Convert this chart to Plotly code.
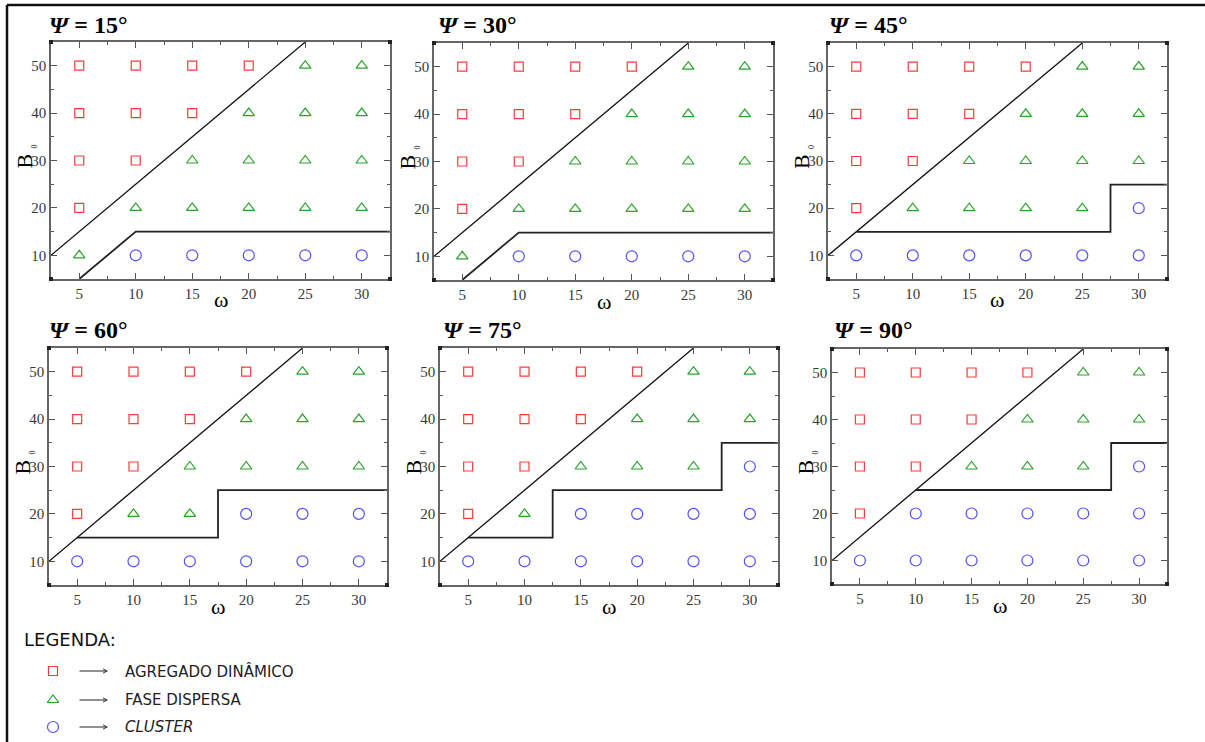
import plotly.graph_objects as go

W, H = 1205, 742

# grid of simulated parameters
omega = [5, 10, 15, 20, 25, 30]
b0 = [10, 20, 30, 40, 50]
psi = [15, 30, 45, 60, 75, 90]

# phase at each (B0, omega): rows go from B0 = 10 up to B0 = 50, columns follow omega
# A = agregado dinâmico, F = fase dispersa, C = cluster
phase_15 = ["FCCCCC", "AFFFFF", "AAFFFF", "AAAFFF", "AAAAFF"]
phase_30 = ["FCCCCC", "AFFFFF", "AAFFFF", "AAAFFF", "AAAAFF"]
phase_45 = ["CCCCCC", "AFFFFC", "AAFFFF", "AAAFFF", "AAAAFF"]
phase_60 = ["CCCCCC", "AFFCCC", "AAFFFF", "AAAFFF", "AAAAFF"]
phase_75 = ["CCCCCC", "AFCCCC", "AAFFFC", "AAAFFF", "AAAAFF"]
phase_90 = ["CCCCCC", "ACCCCC", "AAFFFC", "AAAFFF", "AAAAFF"]
phases = [phase_15, phase_30, phase_45, phase_60, phase_75, phase_90]

# boundary between agregado dinâmico and fase dispersa (same for every angle)
upper_x = [2.5, 25]
upper_y = [10, 55]

# boundary between fase dispersa and cluster
lower_15_x, lower_15_y = [5, 10, 32.5], [5, 15, 15]
lower_30_x, lower_30_y = [5, 10, 32.5], [5, 15, 15]
lower_45_x, lower_45_y = [5, 27.5, 27.5, 32.5], [15, 15, 25, 25]
lower_60_x, lower_60_y = [5, 17.5, 17.5, 32.5], [15, 15, 25, 25]
lower_75_x, lower_75_y = [5, 12.5, 12.5, 27.5, 27.5, 32.5], [15, 15, 25, 25, 35, 35]
lower_90_x, lower_90_y = [10, 27.5, 27.5, 32.5], [25, 25, 35, 35]
lower_x = [lower_15_x, lower_30_x, lower_45_x, lower_60_x, lower_75_x, lower_90_x]
lower_y = [lower_15_y, lower_30_y, lower_45_y, lower_60_y, lower_75_y, lower_90_y]

legend_labels = ["AGREGADO DINÂMICO", "FASE DISPERSA", "<i>CLUSTER</i>"]

# ---- styling ----
STYLE = {
    "A": dict(symbol="square-open", size=9, color="#ff3a3a"),
    "F": dict(symbol="triangle-up-open", size=10, color="#28a428"),
    "C": dict(symbol="circle-open", size=11, color="#5050ff"),
}
SERIF = "Liberation Serif"
SANS = "DejaVu Sans"

# panel boxes in pixels: left, top, right, bottom
boxes = [
    (51, 42, 390, 279), (434, 43, 773, 280), (828, 43, 1167, 279),
    (49, 348, 387, 585), (440, 348, 778, 585), (832, 349, 1167, 584),
]
title_pos = [(47, 25), (436, 25), (827, 25), (47, 330), (441, 330), (832, 330)]


def px(x):
    return x / W


def py(y):
    return 1 - y / H


fig = go.Figure()
annotations = []
shapes = []

for i, (grid, box) in enumerate(zip(phases, boxes)):
    n = i + 1
    suffix = "" if n == 1 else str(n)
    xa, ya = f"x{suffix}", f"y{suffix}"
    for code in "AFC":
        xs, ys = [], []
        for r, b in enumerate(b0):
            for c, w in enumerate(omega):
                if grid[r][c] == code:
                    xs.append(w)
                    ys.append(b)
        st = STYLE[code]
        fig.add_trace(go.Scatter(
            x=xs, y=ys, mode="markers", xaxis=xa, yaxis=ya, showlegend=False,
            marker=dict(symbol=st["symbol"], size=st["size"], color=st["color"],
                        line=dict(color=st["color"], width=1.2)),
            hoverinfo="skip"))
    fig.add_trace(go.Scatter(x=upper_x, y=upper_y, mode="lines", xaxis=xa, yaxis=ya,
                             showlegend=False, line=dict(color="#111", width=1.3)))
    fig.add_trace(go.Scatter(x=lower_x[i], y=lower_y[i], mode="lines", xaxis=xa, yaxis=ya,
                             showlegend=False, line=dict(color="#222", width=1.8)))

    l, t, r, b = box
    common = dict(showline=True, linecolor="#666", linewidth=1.5, mirror="allticks",
                  ticks="inside", ticklen=6, tickwidth=1, tickcolor="#555",
                  showgrid=False, zeroline=False,
                  tickfont=dict(family=SERIF, size=15, color="#383838"))
    fig.layout[f"xaxis{suffix}"] = dict(
        domain=[px(l), px(r)], anchor=ya, range=[2.5, 32.5], tick0=0, dtick=5,
        minor=dict(dtick=2.5, ticks="inside", ticklen=3, tickcolor="#555", showgrid=False),
        **common)
    fig.layout[f"yaxis{suffix}"] = dict(
        domain=[py(b), py(t)], anchor=xa, range=[5, 55], tick0=10, dtick=10,
        minor=dict(dtick=5, ticks="inside", ticklen=3, tickcolor="#555", showgrid=False),
        **common)

    # small corner blocks of the frame
    for fx in (0, 1):
        for fy in (0, 1):
            shapes.append(dict(type="rect", xref=f"{xa} domain", yref=f"{ya} domain",
                               xsizemode="pixel", ysizemode="pixel", xanchor=fx, yanchor=fy,
                               x0=-2, x1=2, y0=-2, y1=2, fillcolor="#222", line=dict(width=0)))

    tx, ty = title_pos[i]
    mid = (t + b) / 2
    annotations.append(dict(xref="paper", yref="paper", x=px(tx), y=py(ty),
                            xanchor="left", yanchor="middle", showarrow=False,
                            text=f"<b><i>Ψ</i> = {psi[i]}°</b>",
                            font=dict(family=SERIF, size=24, color="#000")))
    annotations.append(dict(xref="paper", yref="paper", x=px((l + r) / 2), y=py(b + 21),
                            xanchor="center", yanchor="middle", showarrow=False,
                            text="ω", font=dict(family=SERIF, size=22, color="#000")))
    # rotated B with a tiny subscript 0
    annotations.append(dict(xref="paper", yref="paper", x=px(l - 27), y=py(mid + 1),
                            xanchor="center", yanchor="middle", showarrow=False, textangle=-90,
                            text="B", font=dict(family=SERIF, size=22, color="#000")))
    annotations.append(dict(xref="paper", yref="paper", x=px(l - 17), y=py(mid - 14),
                            xanchor="center", yanchor="middle", showarrow=False, textangle=-90,
                            text="0", font=dict(family=SERIF, size=8, color="#000")))

# ---- legend block drawn on a pixel-scaled overlay axis ----
fig.layout["xaxis7"] = dict(domain=[0, 1], range=[0, W], visible=False, fixedrange=True,
                            anchor="y7")
fig.layout["yaxis7"] = dict(domain=[0, 1], range=[H, 0], visible=False, fixedrange=True,
                            anchor="x7")
legend_y = [671, 700, 727]
for code, label, ly in zip("AFC", legend_labels, legend_y):
    st = STYLE[code]
    fig.add_trace(go.Scatter(
        x=[53], y=[ly], mode="markers", xaxis="x7", yaxis="y7", showlegend=False,
        marker=dict(symbol=st["symbol"], size=st["size"], color=st["color"],
                    line=dict(color=st["color"], width=1.2)),
        hoverinfo="skip"))
    annotations.append(dict(xref="x7", yref="y7", x=108, y=ly, ax=78, ay=ly,
                            axref="x7", ayref="y7", text="", showarrow=True,
                            arrowhead=5, arrowsize=0.8, arrowwidth=1, arrowcolor="#222"))
    annotations.append(dict(xref="x7", yref="y7", x=123, y=ly, xanchor="left",
                            yanchor="middle", showarrow=False, text=label,
                            font=dict(family=SANS, size=15, color="#222")))

annotations.append(dict(xref="x7", yref="y7", x=22, y=639, xanchor="left", yanchor="middle",
                        showarrow=False, text="LEGENDA:",
                        font=dict(family=SANS, size=18, color="#111")))

# outer frame (top and left edges)
shapes.append(dict(type="line", xref="paper", yref="paper", x0=px(7), x1=1,
                   y0=py(5), y1=py(5), line=dict(color="#111", width=2.5)))
shapes.append(dict(type="line", xref="paper", yref="paper", x0=px(7), x1=px(7),
                   y0=py(5), y1=0, line=dict(color="#111", width=2.5)))

# transparent plot background so the full-page overlay axis does not hide the panels
fig.update_layout(width=W, height=H, autosize=False, margin=dict(l=0, r=0, t=0, b=0),
                  paper_bgcolor="white", plot_bgcolor="rgba(0,0,0,0)",
                  annotations=annotations, shapes=shapes, showlegend=False)

fig.write_html("out.html")
